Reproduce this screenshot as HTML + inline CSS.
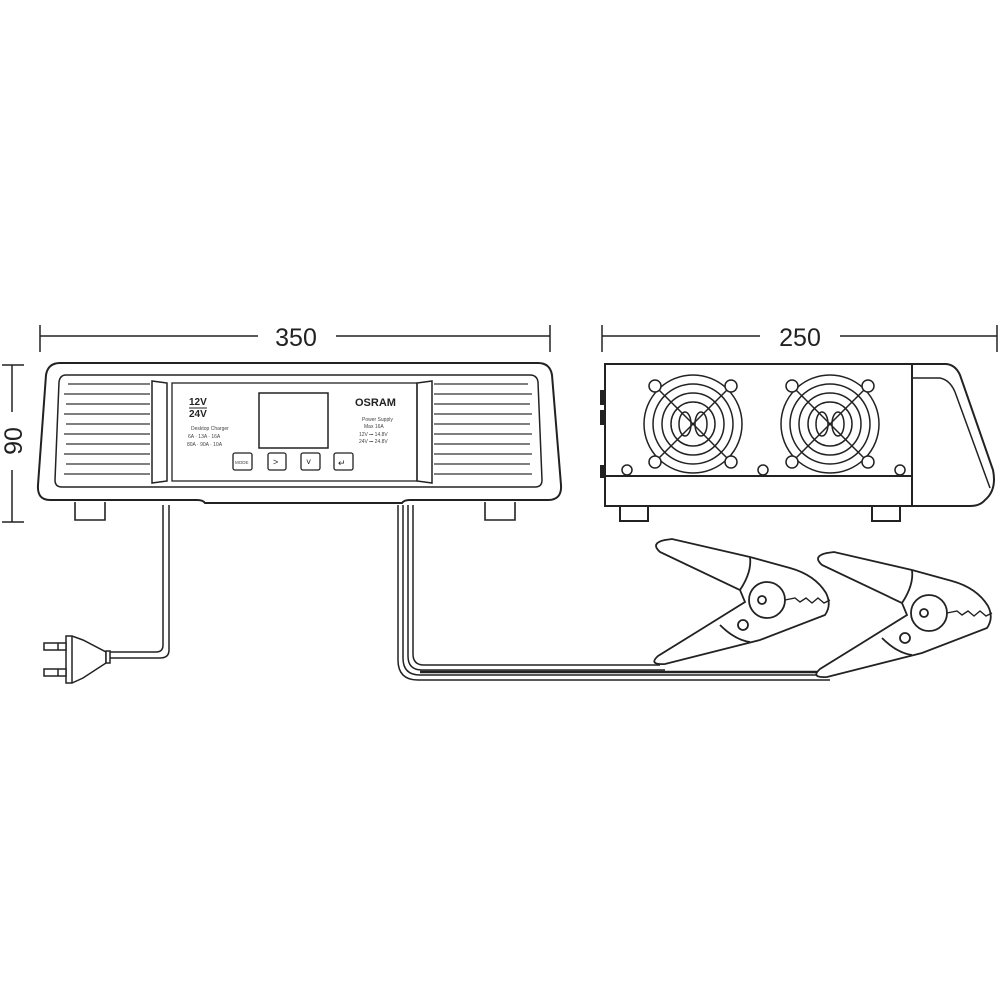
<!DOCTYPE html>
<html><head><meta charset="utf-8"><style>html,body{margin:0;padding:0;background:#fff}svg{display:block}</style></head>
<body>
<svg width="1000" height="1000" viewBox="0 0 1000 1000" xmlns="http://www.w3.org/2000/svg" font-family="Liberation Sans, sans-serif">
<g stroke="#222" fill="none" stroke-width="1.5">
<!-- dimension 350 -->
<line x1="40" y1="336" x2="258" y2="336"/><line x1="336" y1="336" x2="550" y2="336"/>
<line x1="40" y1="325" x2="40" y2="352"/><line x1="550" y1="325" x2="550" y2="352"/>
<!-- dimension 250 -->
<line x1="602" y1="336" x2="760" y2="336"/><line x1="840" y1="336" x2="997" y2="336"/>
<line x1="602" y1="325" x2="602" y2="352"/><line x1="997" y1="325" x2="997" y2="352"/>
<!-- dimension 90 -->
<line x1="12" y1="365" x2="12" y2="412"/><line x1="12" y1="470" x2="12" y2="522"/>
<line x1="2" y1="365" x2="24" y2="365"/><line x1="2" y1="522" x2="24" y2="522"/>
</g>
<g fill="#222" font-size="25">
<text x="296" y="346" text-anchor="middle">350</text>
<text x="800" y="346" text-anchor="middle">250</text>
<text transform="translate(22,441) rotate(-90)" text-anchor="middle">90</text>
</g>

<!-- front unit -->
<g stroke="#222" fill="none" stroke-width="2">
<path d="M60,363 L538,363 Q550,363 552,375 L561,485 Q562,500 548,500 L410,500 Q404,500 402,503 L205,503 Q203,500 197,500 L50,500 Q37,500 38,485 L46,375 Q48,363 60,363 Z"/>
<path d="M66,375 L530,375 Q537,375 538,382 L542,480 Q542,487 535,487 L62,487 Q55,487 55,480 L59,382 Q60,375 66,375 Z" stroke-width="1.5"/>
<rect x="172" y="383" width="245" height="98" stroke-width="1.3"/>
<path d="M152,381 L167,383 L167,481 L152,483 Z" stroke-width="1.5"/>
<path d="M432,381 L417,383 L417,481 L432,483 Z" stroke-width="1.5"/>
<rect x="259" y="393" width="69" height="55" stroke-width="1.5"/>
<rect x="233" y="453" width="19" height="17" rx="2" stroke-width="1.3"/>
<rect x="268" y="453" width="18" height="17" rx="2" stroke-width="1.3"/>
<rect x="301" y="453" width="19" height="17" rx="2" stroke-width="1.3"/>
<rect x="334" y="453" width="19" height="17" rx="2" stroke-width="1.3"/>
<path d="M75,502 L75,520 L105,520 L105,502" stroke-width="1.6"/>
<path d="M485,502 L485,520 L515,520 L515,502" stroke-width="1.6"/>
</g>
<g stroke="#333" stroke-width="1.2" fill="none">
<path d="M68,384 H150 M64,394 H150 M66,404 H150 M64,414 H150 M66,424 H150 M64,434 H150 M66,444 H150 M64,454 H150 M66,464 H150 M64,474 H150"/>
<path d="M434,384 H528 M434,394 H532 M434,404 H530 M434,414 H532 M434,424 H530 M434,434 H532 M434,444 H530 M434,454 H532 M434,464 H530 M434,474 H532"/>
</g>
<g fill="#222" font-weight="bold">
<text x="189" y="405" font-size="10">12V</text>
<line x1="189" y1="408" x2="207" y2="408" stroke="#222"/>
<text x="189" y="417" font-size="10">24V</text>
<text x="355" y="406" font-size="11">OSRAM</text>
</g>
<g fill="#444" font-size="5">
<text x="191" y="430">Desktop Charger</text>
<text x="188" y="438">6A · 13A · 16A</text>
<text x="187" y="446">80A · 90A · 10A</text>
<text x="362" y="421">Power Supply</text>
<text x="364" y="428">Max 16A</text>
<text x="359" y="436">12V ⎓ 14.8V</text>
<text x="359" y="443">24V ⎓ 24.8V</text>
<text x="235" y="464" font-size="4.5">MODE</text>
</g>
<g fill="#222" font-size="9">
<text x="273" y="465">&gt;</text><text x="306" y="465">˅</text><text x="338" y="466">↵</text>
</g>

<!-- power cord -->
<g stroke="#222" fill="none" stroke-width="1.5">
<path d="M163,505 V645 Q163,652 156,652 H110"/>
<path d="M169,505 V650 Q169,658 160,658 H110"/>
<path d="M83,640 L72,636 L66,636 L66,683 L72,683 L83,678 L106,663 L106,652 Z" fill="#fff"/>
<line x1="72" y1="636" x2="72" y2="683"/>
<rect x="106" y="651" width="4" height="12" fill="#fff"/>
<rect x="44" y="643" width="22" height="7" fill="#fff"/>
<rect x="44" y="669" width="22" height="7" fill="#fff"/>
<line x1="58" y1="643" x2="58" y2="650"/><line x1="58" y1="669" x2="58" y2="676"/>
</g>

<!-- clamp cables -->
<g stroke="#222" fill="none" stroke-width="1.5">
<path d="M398,505 V660 Q398,680 418,680 H830"/>
<path d="M403,505 V658 Q403,675 420,675 H830"/>
<path d="M408,505 V656 Q408,670 422,670 H665"/>
<path d="M413,505 V654 Q413,665 424,665 H660"/>
</g>
<g stroke="#222" stroke-width="2.5" fill="none">
<line x1="420" y1="672" x2="820" y2="672"/>
</g>

<!-- clamps -->
<g id="c1" stroke="#222" fill="#fff" stroke-width="1.8">
<path d="M665,540 Q650,543 660,552 L740,590 L745,602 L700,630 L658,656 Q648,665 665,664 L760,640 L825,615 Q832,605 826,593 Q815,575 790,568 L750,557 L672,539 Z"/>
<path d="M740,590 Q752,572 750,557" fill="none"/>
<path d="M720,625 Q735,640 750,642" fill="none"/>
<circle cx="767" cy="600" r="18"/>
<circle cx="762" cy="600" r="4"/>
<circle cx="743" cy="625" r="5"/>
<path d="M785,600 L795,598 L800,602 L806,598 L812,603 L818,598 L824,603 L830,600" fill="none" stroke-width="1.4"/>
</g>
<use href="#c1" transform="translate(162,13)"/>

<!-- side unit -->
<g stroke="#222" fill="none" stroke-width="2">
<rect x="605" y="364" width="307" height="142"/>
<line x1="605" y1="476" x2="912" y2="476"/>
<path d="M912,364 L945,364 Q955,364 960,375 L993,470 Q997,490 985,500 Q980,506 970,506 L912,506"/>
<path d="M912,378 L940,378 Q950,380 955,392 L990,488" stroke-width="1.5"/>
<path d="M620,507 V521 H648 V507"/>
<path d="M872,507 V521 H900 V507"/>
<path d="M602,390 V405 M602,410 V425 M602,465 V478" stroke-width="4"/>
</g>
<g id="fan" stroke="#222" fill="none" stroke-width="1.5">
<circle cx="693" cy="424" r="49"/>
<circle cx="693" cy="424" r="40"/>
<circle cx="693" cy="424" r="31"/>
<circle cx="693" cy="424" r="22"/>
<ellipse cx="685" cy="424" rx="6" ry="12"/>
<ellipse cx="701" cy="424" rx="6" ry="12"/>
<line x1="655" y1="386" x2="731" y2="462"/>
<line x1="731" y1="386" x2="655" y2="462"/>
<g fill="#fff"><circle cx="655" cy="386" r="6"/><circle cx="731" cy="386" r="6"/><circle cx="655" cy="462" r="6"/><circle cx="731" cy="462" r="6"/></g>
</g>
<use href="#fan" transform="translate(137,0)"/>
<g stroke="#222" fill="#fff" stroke-width="1.5">
<circle cx="627" cy="470" r="5"/><circle cx="763" cy="470" r="5"/><circle cx="900" cy="470" r="5"/>
</g>
</svg>
</body></html>
